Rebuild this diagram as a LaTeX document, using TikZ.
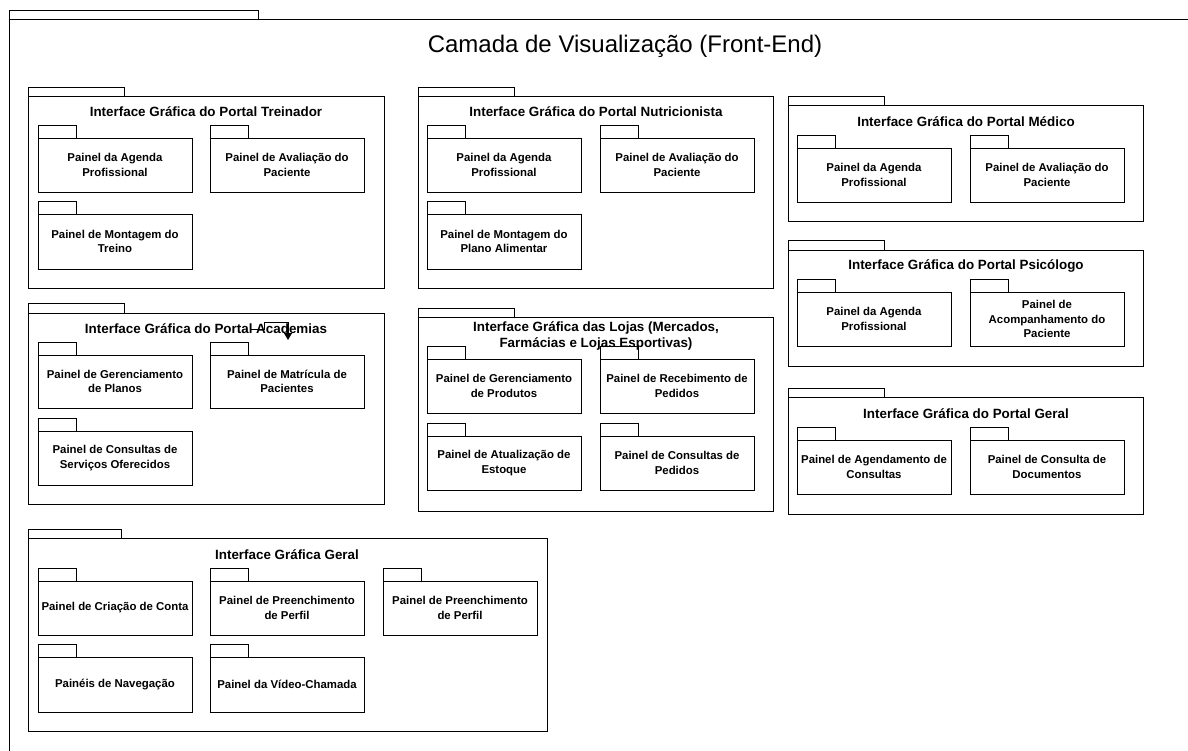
\documentclass[tikz,border=0pt]{standalone}
\usepackage{fontspec}
\setmainfont{Liberation Sans}
\usetikzlibrary{arrows.meta}

\tikzset{
  frameline/.style={draw=black, line width=0.9pt},
  pkgbody/.style={frameline, inner sep=0pt, outer sep=0pt, anchor=north west},
  pkgtitle/.style={font=\bfseries\fontsize{13.4}{16}\selectfont, align=center, inner sep=0pt},
  panelbody/.style={pkgbody, font=\bfseries\fontsize{11.4}{14.2}\selectfont, align=center},
  maintitle/.style={font=\fontsize{24}{28}\selectfont, inner sep=0pt},
  flow/.style={draw=black, line width=0.9pt, -{Triangle[width=8pt,length=7pt]}},
}

% package frame: name, x, y, width, height, tab width, tab height
\newcommand\pkgframe[7]{%
  \node[pkgbody, minimum width=#4pt, minimum height=#5pt] (#1) at (#2,#3) {};
  \draw[frameline] (#1.north west) rectangle ++(#6,-#7);
}
% inner panel: name, x, y, height, label
\newcommand\panel[5]{%
  \node[panelbody, minimum width=154pt, minimum height=#4pt] (#1) at (#2,#3) {#5};
  \draw[frameline] (#1.north west) rectangle ++(38,-13);
}

\begin{document}
\begin{tikzpicture}[x=1pt, y=-1pt]
\useasboundingbox (0,0) rectangle (1188,751);
\fill[white] (0,0) rectangle (1188,751);
\clip (0,0) rectangle (1188,751);

% outer layer
\node[pkgbody, minimum width=1200pt, minimum height=760pt] (layer) at (9,19) {};
\draw[frameline] (layer.north west) rectangle ++(249,-9);
\node[maintitle] (layertitle) at (625,46) {Camada de Visualização (Front-End)};

% Portal Treinador
\pkgframe{treinador}{28}{96}{356}{192}{96}{9}
\node[pkgtitle] (treinadorT) at (206,112) {Interface Gráfica do Portal Treinador};
\panel{tr1}{38}{138}{54}{Painel da Agenda\\Profissional}
\panel{tr2}{210}{138}{54}{Painel de Avaliação do\\Paciente}
\panel{tr3}{38}{214}{55}{Painel de Montagem do\\Treino}

% Portal Nutricionista
\pkgframe{nutri}{418}{96}{355}{192}{96}{9}
\node[pkgtitle] (nutriT) at (596,112) {Interface Gráfica do Portal Nutricionista};
\panel{nu1}{427}{138}{54}{Painel da Agenda\\Profissional}
\panel{nu2}{600}{138}{54}{Painel de Avaliação do\\Paciente}
\panel{nu3}{427}{214}{55}{Painel de Montagem do\\Plano Alimentar}

% Portal Medico
\pkgframe{medico}{788}{105}{355}{116}{96}{9}
\node[pkgtitle] (medicoT) at (966,122) {Interface Gráfica do Portal Médico};
\panel{me1}{797}{148}{54}{Painel da Agenda\\Profissional}
\panel{me2}{970}{148}{54}{Painel de Avaliação do\\Paciente}

% Portal Psicologo
\pkgframe{psico}{788}{250}{355}{116}{96}{10}
\node[pkgtitle] (psicoT) at (966,266) {Interface Gráfica do Portal Psicólogo};
\panel{ps1}{797}{292}{54}{Painel da Agenda\\Profissional}
\panel{ps2}{970}{292}{54}{Painel de\\Acompanhamento do\\Paciente}

% Portal Geral
\pkgframe{pgeral}{788}{397}{355}{117}{96}{9}
\node[pkgtitle] (pgeralT) at (966,414) {Interface Gráfica do Portal Geral};
\panel{pg1}{797}{440}{54}{Painel de Agendamento de\\Consultas}
\panel{pg2}{970}{440}{54}{Painel de Consulta de\\Documentos}

% Portal Academias
\pkgframe{academia}{28}{313}{356}{191}{96}{10}
\node[pkgtitle] (academiaT) at (206,329) {Interface Gráfica do Portal Academias};
\panel{ac1}{38}{355}{53}{Painel de Gerenciamento\\de Planos}
\panel{ac2}{210}{355}{53}{Painel de Matrícula de\\Pacientes}
\panel{ac3}{38}{431}{54}{Painel de Consultas de\\Serviços Oferecidos}

% stray connector inside the Academias frame
\coordinate (fromA) at (250,329);
\coordinate (toA) at (288,340);
\draw[flow] (fromA) -- ++(14,0) -- ++(0,-7) -| (toA);

% Lojas
\pkgframe{lojas}{418}{317}{355}{194}{96}{9}
\node[pkgtitle] (lojasT) at (596,336) {Interface Gráfica das Lojas (Mercados,\\Farmácias e Lojas Esportivas)};
\panel{lo1}{427}{359}{54}{Painel de Gerenciamento\\de Produtos}
\panel{lo2}{600}{359}{54}{Painel de Recebimento de\\Pedidos}
\panel{lo3}{427}{436}{54}{Painel de Atualização de\\Estoque}
\panel{lo4}{600}{436}{54}{Painel de Consultas de\\Pedidos}

% Interface Geral
\pkgframe{geral}{28}{538}{519}{193}{93}{9}
\node[pkgtitle] (geralT) at (287,555) {Interface Gráfica Geral};
\panel{ge1}{38}{581}{54}{Painel de Criação de Conta}
\panel{ge2}{210}{581}{54}{Painel de Preenchimento\\de Perfil}
\panel{ge3}{383}{581}{54}{Painel de Preenchimento\\de Perfil}
\panel{ge4}{38}{657}{55}{Painéis de Navegação}
\panel{ge5}{210}{657}{55}{Painel da Vídeo-Chamada}
\end{tikzpicture}
\end{document}
